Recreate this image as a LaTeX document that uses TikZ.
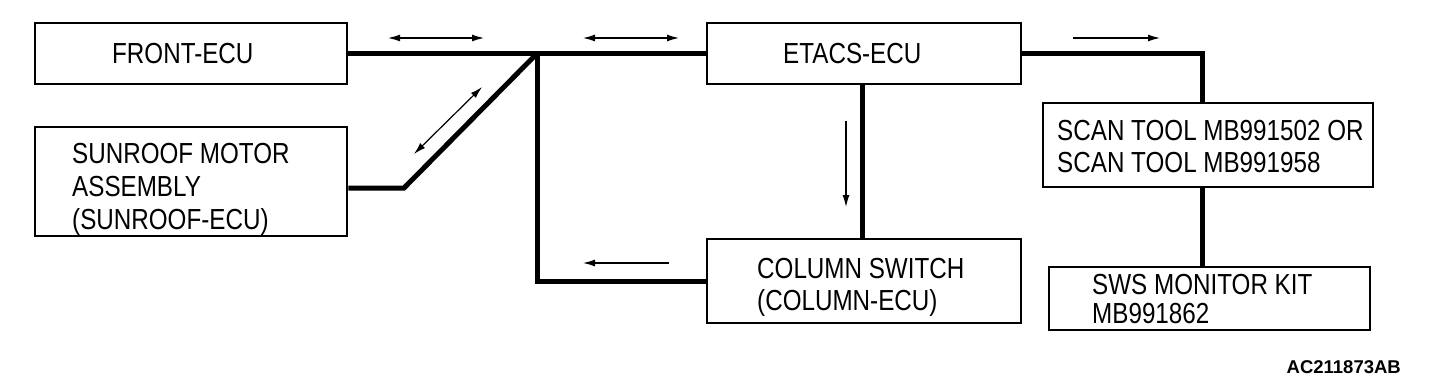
\documentclass[tikz,border=0pt]{standalone}
\usepackage{fontspec}
\setmainfont{Liberation Sans}[FakeStretch=0.835]
\newfontfamily\codefont{Liberation Sans}
\usetikzlibrary{arrows.meta}
\tikzset{
  box/.style={draw, line width=2.7pt, rectangle, inner sep=0pt, minimum width=#1},
  bus/.style={line width=5pt, line join=miter},
  sig/.style={line width=1.2pt},
  tip/.style={-{Latex[length=12pt,width=7pt]}},
  btip/.style={{Latex[length=12pt,width=7pt]}-{Latex[length=12pt,width=7pt]}},
  txt/.style={anchor=north west, inner sep=0pt, align=left},
}
\begin{document}
\begin{tikzpicture}[x=1pt,y=-1pt]
\useasboundingbox (0,0) rectangle (1440,388);
% boxes
\node[box=312pt, minimum height=61pt] (front) at (191,53.5) {};
\node[box=312pt, minimum height=109pt] (sun) at (191,181.5) {};
\node[box=314pt, minimum height=61pt] (etacs) at (864,53.5) {};
\node[box=314pt, minimum height=84pt] (col) at (864,281) {};
\node[box=330pt, minimum height=84pt] (scan) at (1208,145) {};
\node[box=321pt, minimum height=63pt] (sws) at (1209.5,298.5) {};
% texts
\node[txt, font=\fontsize{29}{33}\selectfont] (tfront) at (112,42.6) {FRONT-ECU};
\node[txt, font=\fontsize{29}{33}\selectfont] (tsun) at (72,142.6) {SUNROOF MOTOR\\ASSEMBLY\\(SUNROOF-ECU)};
\node[txt, font=\fontsize{29}{33}\selectfont] (tetacs) at (783,42.6) {ETACS-ECU};
\node[txt, font=\fontsize{29}{32}\selectfont] (tcol) at (757,257.6) {COLUMN SWITCH\\(COLUMN-ECU)};
\node[txt, font=\fontsize{29}{32}\selectfont] (tscan) at (1057,119.6) {SCAN TOOL MB991502 OR\\SCAN TOOL MB991958};
\node[txt, font=\fontsize{29}{29}\selectfont] (tsws) at (1092,273.6) {SWS MONITOR KIT\\MB991862};
\node[anchor=east, inner sep=0pt, font=\codefont\fontsize{18.5}{20}\selectfont\bfseries] (code) at (1401,367) {AC211873AB};
% bus lines
\coordinate (J) at (537,53.5);
\coordinate (sb) at (404,188);
\coordinate (cb) at (537,281);
\coordinate (st) at (1202,103);
\coordinate (sbot) at (1202,187);
\draw[bus] (front.east) -- (etacs.west);
\draw[bus] (J) -- (sb) -- (sb -| sun.east);
\draw[bus] (J) -- (cb) -- (col.west);
\draw[bus] ([xshift=-2pt]etacs.south) -- ([xshift=-2pt]col.north);
\draw[bus] (etacs.east) -| (st);
\draw[bus] (sbot) -- (sbot |- sws.north);
% signal arrows
\coordinate (a1s) at (388,38); \coordinate (a1e) at (484,38);
\coordinate (a2s) at (583,38); \coordinate (a2e) at (679,38);
\coordinate (a3s) at (1073,38); \coordinate (a3e) at (1160,38);
\coordinate (a4s) at (414,154); \coordinate (a4e) at (482,87);
\coordinate (a5s) at (846,121); \coordinate (a5e) at (846,207);
\coordinate (a6s) at (669,263); \coordinate (a6e) at (583,263);
\draw[sig, btip] (a1s) -- (a1e);
\draw[sig, btip] (a2s) -- (a2e);
\draw[sig, tip] (a3s) -- (a3e);
\draw[sig, btip] (a4s) -- (a4e);
\draw[sig, tip] (a5s) -- (a5e);
\draw[sig, tip] (a6s) -- (a6e);
\end{tikzpicture}
\end{document}
